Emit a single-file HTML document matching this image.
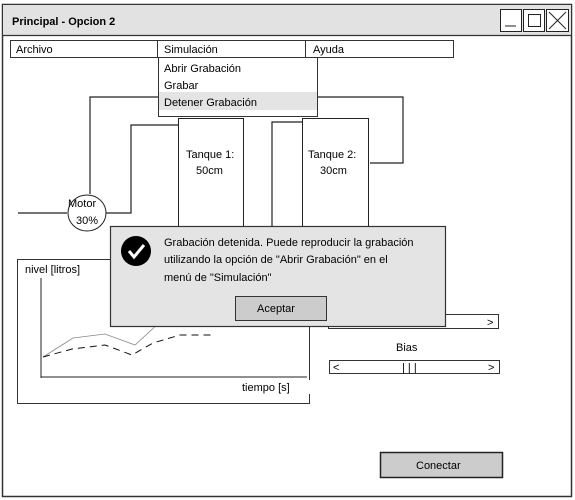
<!DOCTYPE html>
<html><head><meta charset="utf-8"><style>
html,body{margin:0;padding:0;background:#fff;}
svg{display:block;}
text{font-family:"Liberation Sans",sans-serif;font-size:11px;fill:#000;}
</style></head><body>
<svg width="575" height="500" viewBox="0 0 575 500" xmlns="http://www.w3.org/2000/svg">
<rect x="2.5" y="4.5" width="569" height="492" fill="#fff" stroke="#333" stroke-width="1.5"/>
<rect x="3" y="5" width="568" height="30" fill="#e2e2e2"/>
<line x1="2" y1="35.5" x2="572" y2="35.5" stroke="#333" stroke-width="1.2"/>
<text x="12" y="25" style="font-weight:bold;font-size:11px">Principal - Opcion 2</text>
<rect x="500.5" y="9.5" width="21" height="22" fill="#fff" stroke="#222"/>
<line x1="505" y1="26" x2="516" y2="26" stroke="#222"/>
<rect x="523.5" y="9.5" width="21" height="22" fill="#fff" stroke="#222"/>
<rect x="528.5" y="14.5" width="12" height="12" fill="none" stroke="#222"/>
<rect x="546.5" y="9.5" width="22" height="22" fill="#fff" stroke="#222"/>
<line x1="549" y1="12" x2="566" y2="29" stroke="#222"/><line x1="566" y1="12" x2="549" y2="29" stroke="#222"/>
<rect x="10.5" y="40.5" width="147" height="17" fill="#fff" stroke="#333"/>
<text x="16" y="53">Archivo</text>
<rect x="157.5" y="40.5" width="148" height="17" fill="#fff" stroke="#333"/>
<text x="164" y="53">Simulación</text>
<rect x="305.5" y="40.5" width="148" height="17" fill="#fff" stroke="#333"/>
<text x="313" y="53">Ayuda</text>
<g stroke="#222" stroke-width="1.2" fill="none">
<polyline points="158,97 90,97 90,194"/>
<polyline points="18,213 67,213"/>
<polyline points="106,213 131,213 131,125 180,125"/>
<polyline points="317,97 403,97 403,163 370,163"/>
<polyline points="302,122 272,122 272,248"/>
<line x1="209" y1="226" x2="209" y2="248"/>
<line x1="333" y1="226" x2="333" y2="248"/>
</g>
<ellipse cx="87" cy="213" rx="19" ry="18" fill="#fff" stroke="#222"/>
<text x="68" y="207">Motor</text><text x="76" y="224">30%</text>
<rect x="178.5" y="118.5" width="65" height="108" fill="#fff" stroke="#222"/>
<text x="186" y="158">Tanque 1:</text><text x="196" y="174">50cm</text>
<rect x="302.5" y="118.5" width="66" height="108" fill="#fff" stroke="#222"/>
<text x="308" y="158">Tanque 2:</text><text x="320" y="174">30cm</text>
<rect x="158.5" y="57.5" width="159" height="59" fill="#fff" stroke="#333"/>
<rect x="159" y="92" width="158" height="18" fill="#e4e4e4"/>
<text x="164" y="72">Abrir Grabación</text>
<text x="164" y="89">Grabar</text>
<text x="164" y="106">Detener Grabación</text>
<rect x="17.5" y="259.5" width="292" height="144" fill="#fff" stroke="#333"/>
<text x="25" y="273">nivel [litros]</text>
<line x1="41" y1="278" x2="41" y2="378" stroke="#222"/>
<line x1="41" y1="377" x2="307" y2="377" stroke="#222"/>
<text x="242" y="391">tiempo [s]</text>
<rect x="298" y="380" width="12" height="14" fill="#fff"/>
<polyline points="43,357 73,338 105,334 135,345 160,322" fill="none" stroke="#888" stroke-width="0.8"/>
<polyline points="43,357 72,349 105,345 132,355 153,343 180,335 215,335" fill="none" stroke="#111" stroke-dasharray="7,5"/>
<rect x="328.5" y="314.5" width="170" height="14" fill="#fff" stroke="#333"/>
<text x="487" y="326">&gt;</text>
<text x="396" y="351">Bias</text>
<rect x="329.5" y="360.5" width="170" height="13" fill="#fff" stroke="#333"/>
<text x="333" y="371">&lt;</text><text x="402" y="371">| | |</text><text x="488" y="371">&gt;</text>
<rect x="110.5" y="226.5" width="335" height="100" fill="#e4e4e4" stroke="#333" stroke-width="1.2"/>
<circle cx="136" cy="251" r="15" fill="#000"/>
<polyline points="129,251 134,257 144,245" fill="none" stroke="#fff" stroke-width="3"/>
<text x="164" y="246">Grabación detenida. Puede reproducir la grabación</text>
<text x="164" y="263">utilizando la opción de "Abrir Grabación" en el</text>
<text x="164" y="281">menú de "Simulación"</text>
<rect x="235.5" y="296.5" width="91" height="24" fill="#cccccc" stroke="#333"/>
<text x="257" y="312">Aceptar</text>
<rect x="380.5" y="452.5" width="122" height="25" fill="#cccccc" stroke="#222" stroke-width="1.5"/>
<text x="416" y="469">Conectar</text>
</svg>
</body></html>
